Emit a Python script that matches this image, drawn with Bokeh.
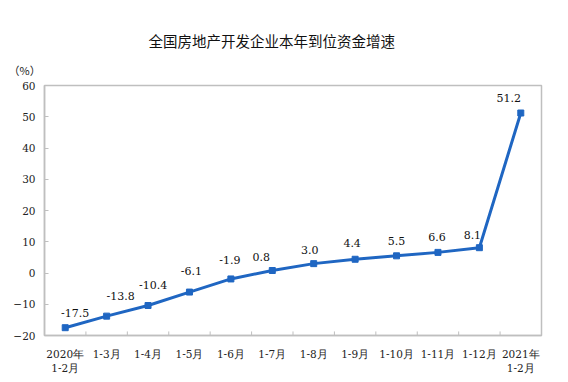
from bokeh.plotting import figure
from bokeh.models import Range1d, FactorRange, Title, ColumnDataSource, FixedTicker
from bokeh.embed import file_html
from bokeh.resources import INLINE

categories = ["2020年\n1-2月", "1-3月", "1-4月", "1-5月", "1-6月", "1-7月", "1-8月",
              "1-9月", "1-10月", "1-11月", "1-12月", "2021年\n1-2月"]
growth = [-17.5, -13.8, -10.4, -6.1, -1.9, 0.8, 3.0, 4.4, 5.5, 6.6, 8.1, 51.2]
y_ticks = [-20, -10, 0, 10, 20, 30, 40, 50, 60]

# label placement tweaks (pixels)
lab_dx = [10, 14, 5, 2, -1, -11, -4, -3, 0, -1, -7, -12]
lab_dy = [15, 20, 21, 21, 19, 14, 14, 16, 15, 15, 13, 15]

BLUE = "#1f66c2"
GRAY = "#bfbfbf"
SERIF = "DejaVu Serif"

p = figure(x_range=FactorRange(*categories, range_padding=0),
           y_range=Range1d(-20, 60),
           frame_width=497, frame_height=250,
           output_backend="svg", toolbar_location=None,
           min_border_left=44, min_border_right=19, min_border_top=85, min_border_bottom=39)
p.background_fill_color = "white"
p.border_fill_color = "white"
p.outline_line_color = GRAY
p.outline_line_width = 1.5
p.xgrid.visible = False
p.ygrid.visible = False

p.title.text = "全国房地产开发企业本年到位资金增速"
p.title.text_font = "Noto Sans CJK SC"
p.title.text_font_size = "14.5px"
p.title.text_font_style = "normal"
p.title.text_color = "#111111"
p.title.align = "left"
p.title.offset = 104
p.title.standoff = 3

p.add_layout(Title(text="（%）", align="left", offset=-36, standoff=15,
                   text_font="Noto Sans CJK SC", text_font_size="11px",
                   text_font_style="normal", text_color="#222222"), "above")

# y axis
p.yaxis.ticker = FixedTicker(ticks=y_ticks)
p.yaxis.axis_line_color = GRAY
p.yaxis.axis_line_width = 1.5
p.yaxis.major_tick_line_color = GRAY
p.yaxis.major_tick_in = 4
p.yaxis.major_tick_out = 0
p.yaxis.minor_tick_line_color = None
p.yaxis.major_label_text_font = SERIF
p.yaxis.major_label_text_font_size = "10.5px"
p.yaxis.major_label_text_color = "#222222"
p.yaxis.major_label_standoff = 9

# x axis
p.xaxis.axis_line_color = GRAY
p.xaxis.axis_line_width = 1.5
p.xaxis.major_tick_line_color = None
p.xaxis.minor_tick_line_color = None
p.xaxis.major_label_text_font = SERIF
p.xaxis.major_label_text_font_size = "10.5px"
p.xaxis.major_label_text_color = "#222222"
p.xaxis.major_label_standoff = 6

# category boundary ticks (inside)
bounds = [(c, 0.5) for c in categories[:-1]]
p.segment(x0=bounds, y0=[-20] * len(bounds), x1=bounds, y1=[-18.7] * len(bounds),
          line_color=GRAY, line_width=1)

src = ColumnDataSource(dict(x=categories, y=growth, t=[f"{v:.1f}" for v in growth],
                            dx=lab_dx, dy=[-d for d in lab_dy]))
p.line("x", "y", source=src, line_color=BLUE, line_width=3)
p.scatter("x", "y", source=src, marker="square", size=6, color=BLUE)
p.text("x", "y", text="t", source=src, x_offset="dx", y_offset="dy",
       text_align="center", text_baseline="middle",
       text_font={"value": SERIF}, text_font_size={"value": "11px"}, text_color="#111111")

open("out.html", "w").write(file_html(p, INLINE))
